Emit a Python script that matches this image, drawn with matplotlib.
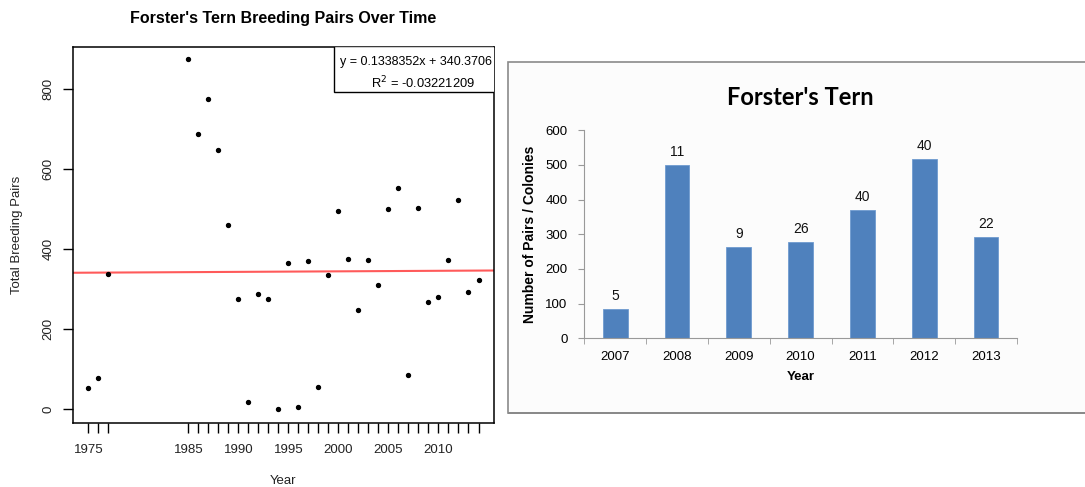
import matplotlib.pyplot as plt
from matplotlib.patches import Rectangle

# left panel: breeding pairs by year
years = [1975, 1976, 1977, 1985, 1986, 1987, 1988, 1989, 1990, 1991, 1992, 1993,
         1994, 1995, 1996, 1997, 1998, 1999, 2000, 2001, 2002, 2003, 2004, 2005,
         2006, 2007, 2008, 2009, 2010, 2011, 2012, 2013, 2014]
pairs = [52, 77, 337, 873, 686, 773, 648, 459, 275, 17, 288, 275,
         1, 364, 4, 369, 55, 334, 495, 375, 247, 372, 310, 500,
         551, 85, 502, 267, 280, 372, 521, 293, 321]
year_labels = [1975, 1985, 1990, 1995, 2000, 2005, 2010]
slope = 0.1338352
intercept = 340.3706

# right panel: Excel style bar chart
bar_years = ['2007', '2008', '2009', '2010', '2011', '2012', '2013']
bar_pairs = [85, 500, 263, 278, 370, 517, 292]
colonies = ['5', '11', '9', '26', '40', '40', '22']

plt.rcParams['font.family'] = ['Liberation Sans', 'DejaVu Sans']

fig = plt.figure(figsize=(10.85, 4.87), dpi=100)

# ---- left plot (R style)
ax = fig.add_axes([0.067, 0.1314, 0.3884, 0.772])
ax.scatter(years, pairs, s=8, color='black', zorder=3)
xl = (1973.44, 2015.56)
ax.set_xlim(xl)
ax.set_ylim(-34.8, 903.8)
ax.plot(xl, [intercept + slope * (x - 1974) for x in xl], color='#ff5a5a', lw=1.5)
ax.set_xticks(years)
ax.set_xticklabels([str(y) if y in year_labels else '' for y in years])
ax.set_yticks([0, 200, 400, 600, 800])
ax.set_yticklabels(['0', '200', '400', '600', '800'], rotation=90, va='center')
ax.tick_params(axis='both', length=7, width=1, labelsize=9.5, color='black', labelcolor='#222222')
ax.tick_params(axis='x', pad=8)
ax.tick_params(axis='y', pad=6)
for sp in ax.spines.values():
    sp.set_linewidth(1.1)
ax.set_xlabel('Year', fontsize=9.5, labelpad=14, color='#222222')
ax.set_ylabel('Total Breeding Pairs', fontsize=9.5, labelpad=14, color='#222222')
fig.text(0.261, 0.962, "Forster's Tern Breeding Pairs Over Time", ha='center', va='center',
         fontsize=11.5, fontweight='bold')

# equation box
ax.add_patch(Rectangle((0.621, 0.8795), 0.38, 0.122, transform=ax.transAxes,
                       facecolor='white', edgecolor='black', lw=1, zorder=4))
ax.text(0.995, 0.96, 'y = 0.1338352x + 340.3706', transform=ax.transAxes,
        ha='right', va='center', fontsize=9.0, zorder=5)
ax.text(0.955, 0.905, r'R$^2$ = -0.03221209', transform=ax.transAxes,
        ha='right', va='center', fontsize=9.3, zorder=5)

# ---- right plot frame
fig.patches.append(Rectangle((0.468, 0.152), 0.6, 0.721, transform=fig.transFigure,
                             facecolor='#fcfcfc', edgecolor='#8a8a8a', lw=1.2, zorder=-5))
fig.patches.append(Rectangle((0.468, 0.149), 0.6, 0.004, transform=fig.transFigure,
                             facecolor='#8a8a8a', edgecolor='none', zorder=-5))

ax2 = fig.add_axes([0.5385, 0.3053, 0.3988, 0.4271])
ax2.patch.set_alpha(0)
pos = list(range(len(bar_years)))
bars = ax2.bar(pos, bar_pairs, width=0.4, color='#4f81bd', edgecolor='#6f9bd0', lw=0.6)
for b, lab in zip(bars, colonies):
    ax2.text(b.get_x() + b.get_width() / 2, b.get_height() + 18, lab,
             ha='center', va='bottom', fontsize=10, color='#111111')
ax2.set_xlim(-0.5, len(bar_years) - 0.5)
ax2.set_ylim(0, 600)
ax2.set_yticks(range(0, 601, 100))
ax2.set_xticks(pos)
ax2.set_xticklabels(bar_years)
ax2.set_xticks([p - 0.5 for p in pos] + [len(pos) - 0.5], minor=True)
ax2.tick_params(axis='x', which='major', length=0, pad=9, labelsize=9.5)
ax2.tick_params(axis='x', which='minor', length=4, color='#999999')
ax2.tick_params(axis='y', length=4, color='#999999', labelsize=9.5, pad=8)
for s in ['top', 'right']:
    ax2.spines[s].set_visible(False)
for s in ['left', 'bottom']:
    ax2.spines[s].set_color('#999999')
ax2.set_xlabel('Year', fontsize=9.5, fontweight='bold', labelpad=6)
ax2.set_ylabel('Number of Pairs / Colonies', fontsize=10, fontweight='bold', labelpad=6)
fig.text(0.7375, 0.8, "Forster's Tern", ha='center', va='center', fontsize=17,
         fontweight='bold', family=['Lato', 'DejaVu Sans'])

fig.savefig('out.png', dpi=100)
